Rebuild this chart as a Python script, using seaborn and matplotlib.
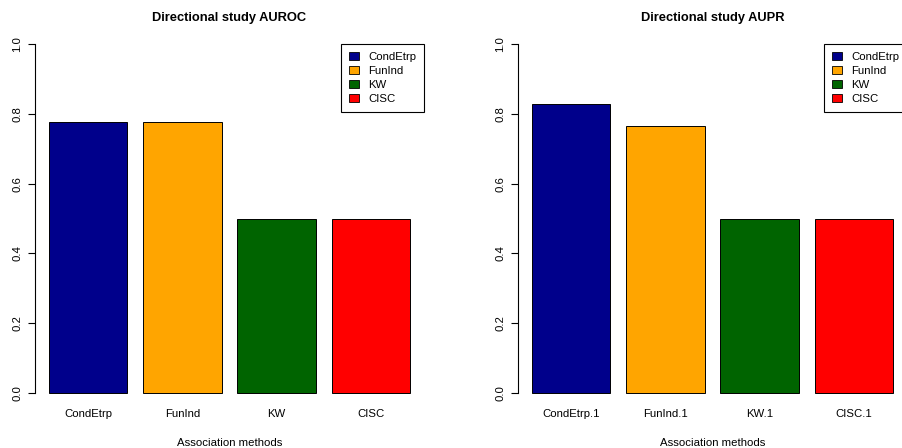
import matplotlib
matplotlib.use("Agg")
import matplotlib.pyplot as plt
from matplotlib.patches import Patch
import seaborn as sns
import pandas as pd

# Scores for each association method
methods_roc = ["CondEtrp", "FunInd", "KW", "CISC"]
auroc = [0.776, 0.777, 0.500, 0.500]

methods_pr = ["CondEtrp.1", "FunInd.1", "KW.1", "CISC.1"]
aupr = [0.829, 0.766, 0.500, 0.500]

legend_labels = ["CondEtrp", "FunInd", "KW", "CISC"]
bar_colors = ["#00008B", "#FFA500", "#006400", "#FF0000"]

sns.set_style("white")
plt.rcParams["font.family"] = ["Liberation Sans", "DejaVu Sans"]
plt.rcParams.update({
    "text.color": "black",
    "axes.labelcolor": "black",
    "xtick.color": "black",
    "ytick.color": "black",
})

W, H = 902, 448
fig = plt.figure(figsize=(W / 100, H / 100), dpi=100)

plot_w = 389.8
plot_top, plot_bottom = 30, 407
lefts = [34.6, 517.6]

panels = [
    ("Directional study AUROC", methods_roc, auroc),
    ("Directional study AUPR", methods_pr, aupr),
]

for left_px, (title, cats, vals) in zip(lefts, panels):
    ax = fig.add_axes([left_px / W, (H - plot_bottom) / H,
                       plot_w / W, (plot_bottom - plot_top) / H])
    df = pd.DataFrame({"method": cats, "score": vals})
    sns.barplot(data=df, x="method", y="score", hue="method",
                palette=bar_colors, legend=False, width=1 / 1.2,
                edgecolor="black", linewidth=0.7, ax=ax, saturation=1)
    ax.set_xlim(-0.57, 3.57)
    ax.set_ylim(-0.04, 1.04)

    for side in ["top", "right", "bottom"]:
        ax.spines[side].set_visible(False)
    ax.spines["left"].set_bounds(0, 1)
    ax.spines["left"].set_color("black")
    ax.spines["left"].set_linewidth(0.8)

    yt = [0.0, 0.2, 0.4, 0.6, 0.8, 1.0]
    ax.set_yticks(yt)
    ax.set_yticklabels([f"{v:.1f}" for v in yt], rotation=90, va="center",
                       fontsize=8.2)
    ax.tick_params(axis="y", left=True, length=5, width=0.8, color="black",
                   pad=4)
    ax.tick_params(axis="x", bottom=False, length=0, pad=1.5, labelsize=8.2)

    ax.set_xlabel("Association methods", fontsize=8.2, labelpad=13.5)
    ax.set_ylabel("")
    ax.set_title(title, fontsize=9.3, fontweight="bold", pad=6.5)

    handles = [Patch(facecolor=c, edgecolor="black", linewidth=0.6)
               for c in bar_colors]
    leg = ax.legend(handles, legend_labels, loc="upper right",
                    bbox_to_anchor=(1.0, 1.04 / 1.08),
                    fontsize=8.2, frameon=True, fancybox=False,
                    edgecolor="black", framealpha=1,
                    handlelength=0.8, handleheight=0.65, handletextpad=0.85,
                    labelspacing=0.34, borderpad=0.72, borderaxespad=0)
    leg.get_frame().set_linewidth(0.8)

fig.savefig("out.png", dpi=100)
